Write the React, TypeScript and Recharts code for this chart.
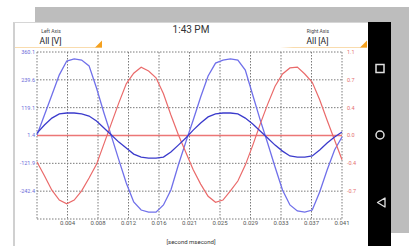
import React from 'react';
import { LineChart, Line, XAxis, YAxis, CartesianGrid, ReferenceLine } from 'recharts';

// time in seconds
const timeS = [
  0, 0.001, 0.002, 0.003, 0.004, 0.005, 0.006, 0.007, 0.008, 0.009,
  0.01, 0.011, 0.012, 0.013, 0.014, 0.015, 0.016, 0.017, 0.018, 0.019,
  0.02, 0.021, 0.022, 0.023, 0.024, 0.025, 0.026, 0.027, 0.028, 0.029,
  0.03, 0.031, 0.032, 0.033, 0.034, 0.035, 0.036, 0.037, 0.038, 0.039,
  0.04, 0.041,
];

// voltage [V], large waveform
const voltageA = [
  1, 87, 174, 261, 321, 330, 325, 300, 204, 96,
  -4, -107, -207, -289, -324, -333, -333, -302, -237, -129,
  -30, 66, 165, 256, 312, 325, 330, 325, 282, 174,
  66, -34, -138, -237, -302, -328, -333, -324, -246, -151,
  -64, -8,
];

// voltage [V], small waveform
const voltageB = [
  9, 44, 74, 92, 96, 96, 92, 83, 61, 31,
  1, -30, -56, -82, -95, -99, -99, -95, -73, -43,
  -12, 22, 53, 79, 92, 96, 96, 92, 74, 48,
  18, -12, -43, -69, -90, -95, -95, -90, -64, -34,
  -8, 14,
];

// current [A]
const currentA = [
  -0.35, -0.53, -0.72, -0.85, -0.9, -0.85, -0.73, -0.56, -0.38, -0.11,
  0.16, 0.43, 0.68, 0.82, 0.9, 0.85, 0.76, 0.55, 0.27, 0.01,
  -0.22, -0.45, -0.64, -0.8, -0.88, -0.85, -0.73, -0.6, -0.39, -0.13,
  0.15, 0.41, 0.65, 0.81, 0.89, 0.9, 0.81, 0.7, 0.47, 0.2,
  -0.06, -0.32,
];

const currentBaseline = 0;

const xTicks = [0.0041, 0.0082, 0.0123, 0.0164, 0.0205, 0.0246, 0.0287, 0.0328, 0.0369, 0.041];
const xTickLabels = ['0.004', '0.008', '0.012', '0.016', '0.021', '0.025', '0.029', '0.033', '0.037', '0.041'];
const leftDomain = [-362.9, 360.1];
const leftTicks = [360.1, 239.6, 119.1, -1.4, -121.9, -242.4];
const leftTickLabels = ['360.1', '239.6', '119.1', '1.4', '-121.9', '-242.4'];
const rightDomain = [-1.1, 1.1];
const rightTicks = [1.1, 0.733, 0.367, 0, -0.367, -0.733];
const rightTickLabels = ['1.1', '0.7', '0.4', '0.0', '-0.4', '-0.7'];

const data = timeS.map((t, i) => ({
  t,
  va: voltageA[i],
  vb: voltageB[i],
  ia: currentA[i],
}));

const FONT = 'Roboto, "Noto Sans", sans-serif';

const labelFor = (ticks: number[], labels: string[]) => (v: number) => {
  const idx = ticks.findIndex((k) => Math.abs(k - v) < 1e-6);
  return idx >= 0 ? labels[idx] : String(v);
};

export default function App() {
  return (
    <div style={{ position: 'absolute', left: 0, top: 0, width: 409, height: 246, background: '#fff', overflow: 'hidden', fontFamily: FONT }}>
      {/* status bar band */}
      <div style={{ position: 'absolute', left: 35, top: 7, width: 374, height: 15, background: '#bdbdbd' }} />
      <div style={{ position: 'absolute', left: 391, top: 7, width: 18, height: 226, background: '#bdbdbd' }} />
      {/* panel */}
      <div style={{ position: 'absolute', left: 13, top: 22, width: 355, height: 224, background: '#fff', borderLeft: '2px solid #d0d0d0', borderTop: '1px solid #d6d6d6', boxSizing: 'border-box' }} />
      {/* nav bar */}
      <div style={{ position: 'absolute', left: 368, top: 22, width: 23, height: 224, background: '#000' }} />

      <div style={{ position: 'absolute', left: 0, top: 0 }}>
        <LineChart width={409} height={246} data={data} margin={{ top: 52, right: 37, bottom: 7, left: 7 }}>
          <CartesianGrid yAxisId="left" stroke="#7a7a7a" strokeDasharray="1.5 1.5" strokeWidth={1} />
          <XAxis
            dataKey="t"
            type="number"
            domain={[0, 0.041]}
            ticks={xTicks}
            interval={0}
            height={20}
            axisLine={false}
            tickLine={false}
            tickSize={0}
            tickMargin={2}
            tickFormatter={labelFor(xTicks, xTickLabels)}
            tick={{ fontSize: 6, fill: '#555', fontFamily: FONT }}
          />
          <YAxis
            yAxisId="left"
            orientation="left"
            type="number"
            domain={leftDomain}
            ticks={leftTicks}
            interval={0}
            width={30}
            axisLine={false}
            tickLine={false}
            tickSize={0}
            tickMargin={2}
            tickFormatter={labelFor(leftTicks, leftTickLabels)}
            tick={{ fontSize: 5.5, fill: '#6a6ad8', fontFamily: FONT }}
          />
          <YAxis
            yAxisId="right"
            orientation="right"
            type="number"
            domain={rightDomain}
            ticks={rightTicks}
            interval={0}
            width={30}
            axisLine={false}
            tickLine={false}
            tickSize={0}
            tickMargin={5}
            tickFormatter={labelFor(rightTicks, rightTickLabels)}
            tick={{ fontSize: 5.5, fill: '#e57070', fontFamily: FONT }}
          />
          <ReferenceLine yAxisId="right" y={currentBaseline} stroke="#ec7676" strokeWidth={1.5} />
          <Line yAxisId="left" type="linear" dataKey="va" stroke="#7070ea" strokeWidth={1.3} dot={false} activeDot={false} isAnimationActive={false} />
          <Line yAxisId="right" type="linear" dataKey="ia" stroke="#ea6a6a" strokeWidth={1.2} dot={false} activeDot={false} isAnimationActive={false} />
          <Line yAxisId="left" type="linear" dataKey="vb" stroke="#3b3bcc" strokeWidth={1.3} dot={false} activeDot={false} isAnimationActive={false} />
        </LineChart>
      </div>

      <svg width={409} height={246} style={{ position: 'absolute', left: 0, top: 0, pointerEvents: 'none' }}>
        <defs>
          <linearGradient id="fadeR" x1="0" x2="1" y1="0" y2="0">
            <stop offset="0" stopColor="#f9dcae" stopOpacity="0" />
            <stop offset="0.15" stopColor="#f9dcae" stopOpacity="1" />
            <stop offset="1" stopColor="#f9dcae" stopOpacity="1" />
          </linearGradient>
        </defs>
        <text x={191} y={33} textAnchor="middle" fontSize={10} fill="#333" fontFamily={FONT}>1:43 PM</text>

        <text x={51} y={33} textAnchor="middle" fontSize={5} fill="#444" fontFamily={FONT}>Left Axis</text>
        <text x={50.5} y={43.5} textAnchor="middle" fontSize={8.5} fill="#222" fontFamily={FONT}>All [V]</text>
        <line x1={15} x2={102} y1={47.5} y2={47.5} stroke="#f9dcae" strokeWidth={1} />
        <polygon points="95,47.5 102,47.5 102,40.5" fill="#f5a11f" />

        <text x={318} y={33} textAnchor="middle" fontSize={5} fill="#444" fontFamily={FONT}>Right Axis</text>
        <text x={317.5} y={43.5} textAnchor="middle" fontSize={8.5} fill="#222" fontFamily={FONT}>All [A]</text>
        <rect x={280} y={47} width={87} height={1} fill="url(#fadeR)" />
        <polygon points="360,47.5 367,47.5 367,40.5" fill="#f5a11f" />

        <text x={191} y={244} textAnchor="middle" fontSize={6} fill="#333" fontFamily={FONT}>[second msecond]</text>

        <rect x={376} y={64.5} width={8} height={8} fill="none" stroke="#e0e0e0" strokeWidth={1.5} />
        <circle cx={380} cy={135} r={4} fill="none" stroke="#e0e0e0" strokeWidth={1.5} />
        <polygon points="385,198 385,207 377.5,202.5" fill="none" stroke="#e0e0e0" strokeWidth={1.3} strokeLinejoin="round" />
      </svg>
    </div>
  );
}
